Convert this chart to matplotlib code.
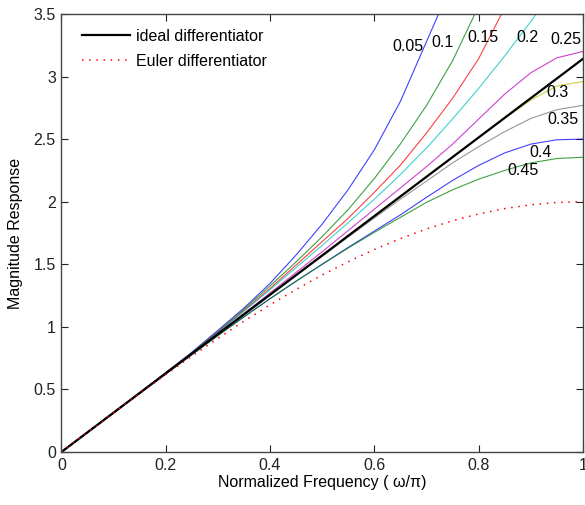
import matplotlib
matplotlib.use("Agg")
import matplotlib.pyplot as plt

plt.rcParams['font.family'] = ['Liberation Sans', 'DejaVu Sans']

# normalized frequency grid (omega/pi)
freq = [0, 0.05, 0.1, 0.15, 0.2, 0.25, 0.3, 0.35, 0.4, 0.45, 0.5,
        0.55, 0.6, 0.65, 0.7, 0.75, 0.8, 0.85, 0.9, 0.95, 1.0]

ideal_x = [0, 1.0]
ideal_y = [0, 3.1416]

euler_y = [0, 0.1569, 0.3129, 0.4669, 0.6180, 0.7654, 0.9080, 1.0450, 1.1756,
           1.2989, 1.4142, 1.5208, 1.6180, 1.7053, 1.7820, 1.8478, 1.9021,
           1.9447, 1.9754, 1.9938, 2.0]

params = ['0.05', '0.1', '0.15', '0.2', '0.25', '0.3', '0.35', '0.4', '0.45']
resp_005 = [0, .157, .315, .473, .634, .797, .972, 1.15, 1.347, 1.574, 1.821,
            2.098, 2.415, 2.802, 3.279, 3.756]
resp_010 = [0, .157, .315, .472, .632, .793, .962, 1.14, 1.327, 1.519, 1.721,
            1.938, 2.185, 2.462, 2.769, 3.126, 3.563]
resp_015 = [0, .157, .314, .472, .631, .791, .957, 1.13, 1.307, 1.494, 1.681,
            1.868, 2.075, 2.292, 2.549, 2.826, 3.143, 3.55]
resp_020 = [0, .157, .314, .472, .630, .790, .954, 1.125, 1.297, 1.474, 1.651,
            1.833, 2.02, 2.217, 2.429, 2.661, 2.905, 3.165, 3.44, 3.73]
resp_025 = [0, .157, .314, .471, .629, .787, .947, 1.107, 1.27, 1.435, 1.60,
            1.77, 1.94, 2.11, 2.28, 2.46, 2.66, 2.86, 3.03, 3.15, 3.20]
resp_030 = [0, .157, .314, .471, .628, .785, .942, 1.100, 1.257, 1.414, 1.571,
            1.728, 1.885, 2.042, 2.199, 2.356, 2.512, 2.666, 2.812, 2.925, 2.96]
resp_035 = [0, .157, .314, .471, .628, .784, .940, 1.096, 1.252, 1.408, 1.563,
            1.718, 1.870, 2.02, 2.165, 2.31, 2.44, 2.56, 2.665, 2.735, 2.77]
resp_040 = [0, .157, .313, .469, .624, .777, .930, 1.08, 1.225, 1.365, 1.50,
            1.635, 1.765, 1.895, 2.035, 2.17, 2.29, 2.39, 2.46, 2.495, 2.50]
resp_045 = [0, .157, .313, .469, .624, .777, .930, 1.08, 1.225, 1.365, 1.50,
            1.63, 1.755, 1.875, 1.995, 2.095, 2.18, 2.25, 2.31, 2.345, 2.355]
responses = [resp_005, resp_010, resp_015, resp_020, resp_025,
             resp_030, resp_035, resp_040, resp_045]

xticks = [0, 0.2, 0.4, 0.6, 0.8, 1.0]
xtick_labels = ['0', '0.2', '0.4', '0.6', '0.8', '1']
yticks = [0, 0.5, 1.0, 1.5, 2.0, 2.5, 3.0, 3.5]
ytick_labels = ['0', '0.5', '1', '1.5', '2', '2.5', '3', '3.5']

colors = [(0, 0, 1), (0, 0.5, 0), (1, 0, 0), (0, 0.75, 0.75), (0.75, 0, 0.75),
          (0.75, 0.75, 0), (0.45, 0.45, 0.45), (0, 0, 1), (0, 0.5, 0)]
label_pos = [(0.664, 3.237), (0.7315, 3.269), (0.809, 3.309), (0.894, 3.309),
             (0.967, 3.293), (0.951, 2.870), (0.962, 2.654), (0.919, 2.390),
             (0.885, 2.246)]

fig = plt.figure(figsize=(5.85, 5.05), dpi=100)
ax = fig.add_axes([0.105, 0.105, 0.8915, 0.8673])

for resp, c in zip(responses, colors):
    ax.plot(freq[:len(resp)], resp, color=c, lw=0.8, alpha=0.75)

ax.plot(ideal_x, ideal_y, color='black', lw=1.6, label='ideal differentiator')
ax.plot(freq, euler_y, color='red', lw=1.1, linestyle=(0, (1, 3.7)),
        label='Euler differentiator')

for p, (tx, ty) in zip(params, label_pos):
    ax.text(tx, ty, p, ha='center', va='center', fontsize=11.5)

ax.set_xlim(0, 1)
ax.set_ylim(0, 3.5)
ax.set_xticks(xticks)
ax.set_xticklabels(xtick_labels)
ax.set_yticks(yticks)
ax.set_yticklabels(ytick_labels)
ax.tick_params(direction='in', top=True, right=True, length=5, width=0.8,
               labelsize=11.5, colors='#222222', pad=4)
for s in ax.spines.values():
    s.set_color('#444444')
    s.set_linewidth(1.0)
ax.set_xlabel('Normalized Frequency ( \u03c9/\u03c0)', fontsize=11.5, labelpad=2)
ax.set_ylabel('Magnitude Response', fontsize=11.5, labelpad=8)

ax.legend(loc='upper left', bbox_to_anchor=(0.024, 0.984), frameon=False,
          fontsize=11.5, handlelength=3.0, borderaxespad=0.0,
          labelspacing=0.62, handletextpad=0.4, borderpad=0.5)

fig.savefig('out.png', dpi=100)
